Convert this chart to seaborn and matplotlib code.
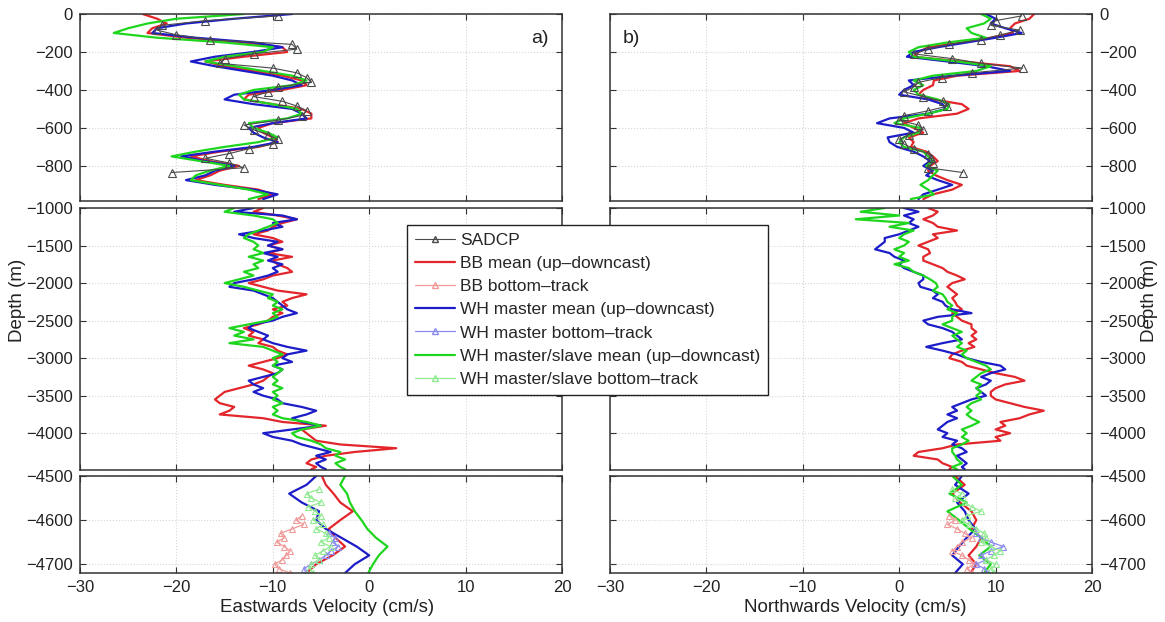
import matplotlib
matplotlib.use("Agg")
import matplotlib.pyplot as plt
from matplotlib.lines import Line2D
import seaborn as sns

# ---------------- data (cm/s, depth in m) ----------------
depth_top = [0, -25, -50, -75, -100, -125, -150, -175, -200, -225,
             -250, -275, -300, -325, -350, -375, -400, -425, -450, -475,
             -500, -525, -550, -575, -600, -625, -650, -675, -700, -725,
             -750, -775, -800, -825, -850, -875, -900, -925, -950, -975]
depth_mid = [-1000, -1050, -1100, -1150, -1200, -1250, -1300, -1350, -1400, -1450,
             -1500, -1550, -1600, -1650, -1700, -1750, -1800, -1850, -1900, -1950,
             -2000, -2050, -2100, -2150, -2200, -2250, -2300, -2350, -2400, -2450,
             -2500, -2550, -2600, -2650, -2700, -2750, -2800, -2850, -2900, -2950,
             -3000, -3050, -3100, -3150, -3200, -3250, -3300, -3350, -3400, -3450,
             -3500, -3550, -3600, -3650, -3700, -3750, -3800, -3850, -3900, -3950,
             -4000, -4050, -4100, -4150, -4200, -4250, -4300, -4350, -4400, -4450,
             -4480]
depth_bot = [-4500, -4520, -4540, -4560, -4580, -4600, -4620, -4640, -4660, -4680, -4700, -4720]
depth_sadcp = [-10, -35, -60, -85, -110, -135, -160, -185, -210, -235,
               -260, -285, -310, -335, -360, -385, -410, -435, -460, -485,
               -510, -535, -560, -585, -610, -635, -660, -685, -710, -735,
               -760, -785, -810, -835]
depth_bt_red = [-4590, -4600, -4610, -4620, -4630, -4640, -4650, -4660, -4670, -4680,
                -4690, -4700, -4710, -4720]
depth_bt_green = [-4530, -4540, -4550, -4560, -4570, -4580, -4590, -4600, -4610, -4620,
                  -4630, -4640, -4650, -4660, -4670, -4680, -4690, -4700, -4710, -4720]
depth_bt_blue = [-4630, -4640, -4650, -4660, -4670, -4680, -4690, -4700, -4710, -4720]

# eastward velocity
u_red_top = [-23.5, -22, -21, -22.5, -23, -19, -13, -9, -8.5, -13,
             -17, -15, -12, -9, -7, -6.5, -9, -12.5, -13, -10,
             -7, -6, -6, -10, -11.5, -11, -10, -9.5, -11.5, -15.5,
             -18.5, -16.5, -13.5, -15.5, -16.5, -18, -15, -11.5, -10, -11.5]
u_blue_top = [-8, -14, -19, -22, -22.5, -18, -12, -9, -12, -16,
              -18.5, -16, -13, -10, -8, -7, -10, -14, -15, -12,
              -8, -7, -6.5, -10, -12.5, -12, -11, -9.5, -12, -16,
              -19.5, -17, -14, -16, -17, -19, -16, -12, -9.5, -11]
u_green_top = [-13, -20, -23, -25, -26.5, -22, -15, -10, -11, -15,
               -17, -14, -11, -8, -6.5, -8, -12, -13.5, -13, -10,
               -7.5, -7, -8.5, -12.5, -12, -10.5, -9.5, -11.5, -15, -18,
               -20.5, -17.5, -14.5, -16.5, -18, -18.5, -15.5, -12.5, -10.5, -12.5]
u_sadcp = [-9.5, -17, -21.5, -22, -20, -16.5, -8, -7.5, -12, -15,
           -15.5, -10, -7.5, -6.5, -6, -9.5, -10.5, -12, -9, -7.5,
           -6.5, -7, -9.5, -13, -12, -10.5, -9.5, -10, -12.5, -14.5,
           -17, -14.5, -13, -20.5]
u_red_mid = [-11, -12, -9.5, -7.5, -9, -10, -10.5, -12, -10, -9,
             -10.5, -9, -10.5, -8, -10, -9.5, -8.5, -8, -10, -11,
             -12.5, -11, -9.5, -6.5, -8, -9, -8.5, -10, -9, -10,
             -10.5, -11.5, -13, -12, -12.5, -11, -11.5, -10, -9.5, -8.5,
             -9.5, -11, -12.5, -11, -10, -10.5, -11, -12, -13.5, -15,
             -15.5, -16, -15.5, -14, -14.5, -15.5, -11, -9, -4.5, -7,
             -6.5, -6, -5.5, -3, 2.8, -1.5, -4.5, -6, -6.5, -5.5,
             -6]
u_blue_mid = [-12, -14, -9, -7.5, -10, -9, -11, -13.5, -12, -9.5,
              -10.5, -9, -11, -9.5, -10.5, -9, -10, -9.5, -10.5, -12,
              -14, -14.5, -12, -11, -10, -9.5, -9, -8.5, -7.5, -9,
              -10, -12, -12.5, -11.5, -10.5, -11, -10, -8.5, -6.5, -8.5,
              -9, -8, -10, -9, -9.5, -11, -12.5, -12, -11, -12,
              -11, -9.5, -9, -7, -5.5, -6.5, -8, -7, -5, -8,
              -11, -10, -8, -7, -5.5, -4, -5.5, -4.5, -5.5, -5,
              -4.5]
u_green_mid = [-14, -15, -12, -10, -9.5, -10.5, -11.5, -12.5, -13, -12,
               -11.5, -12, -11, -12.5, -11, -12, -11.5, -13, -12, -13.5,
               -15, -13, -11.5, -10, -10.5, -9.5, -10, -9, -10, -9.5,
               -10.5, -12.5, -14.5, -13, -14, -12, -14.5, -11, -10, -9,
               -10, -9.5, -10, -9, -9.5, -10, -9.5, -10, -9, -10,
               -9.5, -10, -9, -10, -9.5, -10, -9, -6.5, -5, -7,
               -8, -7.5, -6, -5, -4.5, -3, -3.5, -2.5, -3.5, -3,
               -2.5]
u_red_bot = [-4.9, -4.5, -3.7, -3, -1.7, -3, -4.2, -3.5, -2.5, -3.8, -5.5, -6.5]
u_blue_bot = [-5.5, -6.5, -8.3, -7, -5.2, -5.5, -4.5, -2.9, -1.3, 0, -1.5, -2.5]
u_green_bot = [-2.5, -3, -2.3, -2, -1.5, -0.8, -0.2, 0.7, 1.9, 1, 0.4, -0.1]
u_bt_red = [-7, -7.6, -6.8, -8, -9.2, -8.8, -9.6, -8.8, -8.2, -8.6, -9, -9.8, -9.4, -8.2]
u_bt_green = [-5.2, -6.5, -6, -5, -6.3, -5.6, -5, -5.8, -4.8, -5.5,
              -4.5, -4.2, -5, -4, -4.8, -5.6, -5.2, -6, -6.2, -5.8]
u_bt_blue = [-4.2, -3.5, -3.8, -3.2, -4, -4.5, -5.2, -6, -6.8, -6.5]

# northward velocity
v_red_top = [14, 13.5, 12, 11.5, 11.8, 9.5, 6.5, 3, 2, 1.5,
             6.5, 11.5, 12.5, 6, 3.6, 3.5, 2.5, 2, 3.5, 6.5,
             7.2, 6, 2, 0.5, 1.5, 2.5, 1, 1.5, 1.2, 2.8,
             3.5, 4, 3.2, 3, 3.8, 5, 6.5, 5.5, 3.5, 2.5]
v_blue_top = [9, 10, 9.5, 11, 12.7, 10, 7, 4, 1.5, 0.8,
              5, 9, 11.5, 5.5, 1, 1.5, 0.5, 0, 3, 4.5,
              4.8, 3, -1, -2.3, 0.5, 1.5, -1.2, -1, -0.2, 1.5,
              2.5, 3.2, 2.5, 3.5, 2.8, 4, 5.5, 4, 2.5, 2]
v_green_top = [8.5, 9.5, 8.8, 7, 7.5, 9, 5, 2, 1, 1.5,
               6, 9.5, 8, 3.5, 1.5, 2.5, 1.5, 2, 4, 5.2,
               5, 3, 0.5, -0.5, 2.2, 2, 0.5, 0, 0.5, 2.5,
               3, 3.5, 2.8, 4, 3.5, 3, 2.2, 3, 3.6, 1.2]
v_sadcp = [12.7, 10, 9.5, 12.5, 10.5, 8.5, 5.2, 3, 1.5, 5.5,
           8.5, 12.8, 7.5, 4.4, 2, 1.5, 0.5, 2.5, 4.5, 5,
           3, 0.5, 0, 2, 2.5, 1, 0, 0.5, 1.5, 3,
           3.3, 3.5, 3, 6.6]
v_red_mid = [3, 4, 3.5, 2.5, 3.5, 4, 6, 3.5, 4, 3,
             2, 3, 3.2, 2.5, 2.5, 3.5, 4.5, 5, 6, 6.8,
             5.5, 5, 5.5, 6, 5.5, 5.8, 6, 6.5, 5.5, 6,
             6.5, 7.5, 7.5, 8, 7.5, 8, 7.2, 7.8, 6.5, 5.5,
             5.2, 6.5, 7, 8.5, 10, 12, 13, 11, 10, 9.5,
             9.5, 10, 11.5, 13, 15, 13.5, 12.5, 10.5, 11, 10,
             11.5, 10, 10.5, 6, 4.5, 2, 1.5, 4, 4.5, 5.5,
             5.2]
v_blue_mid = [0.5, 2, 0.5, 1.5, 1, 2, 1, 0, -1.5, -1.5,
              -2, -2.5, -1, -0.5, 0.5, 0, 0.5, 1.5, 2.5, 2.5,
              2, 2.2, 3.5, 4, 3.5, 4.5, 4.8, 5.5, 7.5, 4,
              2.5, 3, 4.5, 5.5, 6, 6.5, 4.5, 2.8, 4.5, 6,
              7, 8.5, 10.5, 11, 9.5, 8.5, 9.5, 9, 8, 8.5,
              9, 7.5, 6.5, 5.5, 6, 5, 6, 5, 4.5, 4,
              5, 4.5, 6, 5.5, 6.5, 7, 6, 6.5, 7, 6.5,
              6.8]
v_green_mid = [-1.5, -4, 0, -4.5, 1, -1, 1.5, 0.5, 0, 1,
               0.5, -0.5, 0.5, 0, 1, -0.5, 1, 1.5, 2.5, 3.2,
               3.8, 4, 3.5, 4.5, 4.8, 5, 5.5, 5, 6, 5.5,
               5.5, 4.5, 5.5, 6.5, 5.5, 6, 6.5, 6, 7, 6.5,
               7, 8, 9, 9.5, 8.5, 8, 7.5, 8.5, 8, 8.5,
               8, 8.5, 7.5, 7, 7.5, 7, 7.5, 8.3, 7.5, 6.5,
               7, 6.5, 7.2, 6.5, 5.5, 5.5, 5.8, 6, 6.5, 5.5,
               6]
v_red_bot = [5.8, 6.8, 5.5, 6.3, 7.5, 8, 7.5, 8.5, 8, 7.2, 8, 7.4]
v_blue_bot = [6.5, 5.8, 7.2, 6, 6.8, 7.2, 7.9, 7, 6.2, 5.5, 6.6, 5.8]
v_green_bot = [5.5, 6.5, 5.2, 7, 5, 6.2, 7.3, 8.5, 9.5, 8.3, 9.5, 8.8]
v_bt_red = [5.2, 5.8, 5, 6, 6.8, 7.5, 6.5, 6, 5.5, 6.5, 7.2, 7.8, 7, 7.5]
v_bt_green = [5.5, 6.5, 5.8, 6.8, 7.5, 8.5, 7, 6.5, 7.2, 8,
              8.8, 9, 8.5, 9.5, 10.5, 9.8, 9, 10, 9.5, 9.8]
v_bt_blue = [8, 8.5, 9.5, 10.8, 9.5, 8.5, 9, 8, 8.8, 9.2]

labels = ["SADCP", "BB mean (up\u2013downcast)", "BB bottom\u2013track",
          "WH master mean (up\u2013downcast)", "WH master bottom\u2013track",
          "WH master/slave mean (up\u2013downcast)", "WH master/slave bottom\u2013track"]

# ---------------- style ----------------
sns.set_theme(style="white")
plt.rcParams["font.family"] = ["Liberation Sans", "DejaVu Sans"]
plt.rcParams["axes.unicode_minus"] = True

c_red, c_blue, c_green, c_sadcp = "#e2262b", "#1c1cc8", "#1fd61f", "#4a4a4a"
c_red_bt, c_blue_bt, c_green_bt = "#f09a9a", "#8a8af0", "#90ea90"

W, H = 1165, 622
fig = plt.figure(figsize=(W / 100, H / 100), dpi=100)

cols = [(80, 562), (610, 1092)]
rows = [(14, 201, (-985, 0), [0, -200, -400, -600, -800]),
        (208, 470, (-4490, -1000), [-1000, -1500, -2000, -2500, -3000, -3500, -4000]),
        (476, 573, (-4720, -4500), [-4500, -4600, -4700])]

mean_data = {
    "east": [(depth_top, u_red_top, u_blue_top, u_green_top),
             (depth_mid, u_red_mid, u_blue_mid, u_green_mid),
             (depth_bot, u_red_bot, u_blue_bot, u_green_bot)],
    "north": [(depth_top, v_red_top, v_blue_top, v_green_top),
              (depth_mid, v_red_mid, v_blue_mid, v_green_mid),
              (depth_bot, v_red_bot, v_blue_bot, v_green_bot)],
}
bt_data = {
    "east": [(depth_bt_red, u_bt_red, c_red_bt), (depth_bt_blue, u_bt_blue, c_blue_bt),
             (depth_bt_green, u_bt_green, c_green_bt)],
    "north": [(depth_bt_red, v_bt_red, c_red_bt), (depth_bt_blue, v_bt_blue, c_blue_bt),
              (depth_bt_green, v_bt_green, c_green_bt)],
}
sadcp_data = {"east": u_sadcp, "north": v_sadcp}


def profile(ax, x, y, color, lw=1.6, **kw):
    sns.lineplot(x=x, y=y, orient="y", sort=False, estimator=None, color=color,
                 lw=lw, ax=ax, legend=False, **kw)


for ci, (comp, (x0, x1)) in enumerate(zip(["east", "north"], cols)):
    for ri, (y0, y1, ylim, yticks) in enumerate(rows):
        ax = fig.add_axes([x0 / W, 1 - y1 / H, (x1 - x0) / W, (y1 - y0) / H])
        d, r, b, g = mean_data[comp][ri]
        profile(ax, r, d, c_red)
        profile(ax, b, d, c_blue)
        profile(ax, g, d, c_green)
        if ri == 2:
            for dd, vv, cc in bt_data[comp]:
                profile(ax, vv, dd, cc, lw=0.9, marker="^", markersize=5,
                        markerfacecolor="none", markeredgecolor=cc, markeredgewidth=0.8)
        if ri == 0:
            profile(ax, sadcp_data[comp], depth_sadcp, c_sadcp, lw=0.8, marker="^",
                    markersize=5.5, markerfacecolor="none", markeredgecolor=c_sadcp,
                    markeredgewidth=0.8)

        ax.set_xlim(-30, 20)
        ax.set_ylim(*ylim)
        ax.set_xticks([-30, -20, -10, 0, 10, 20])
        ax.set_yticks(yticks)
        ax.set_xlabel("")
        ax.set_ylabel("")
        ax.grid(True, ls=":", color="#d6d6d6", lw=0.8)
        for s in ax.spines.values():
            s.set_color("#333333")
            s.set_linewidth(1.1)
        ax.tick_params(direction="in", length=4, width=0.8, colors="#333333",
                       labelcolor="#222222", labelsize=12, top=True, right=True,
                       left=True, bottom=True, pad=5,
                       labelbottom=(ri == 2),
                       labelleft=(ci == 0), labelright=(ci == 1))
        if ri == 0:
            ax.text(0.955 if ci == 0 else 0.045, 0.87, "a)" if ci == 0 else "b)",
                    transform=ax.transAxes, ha="center", va="center",
                    fontsize=14, color="#222222")

fig.text(18 / W, 1 - 300 / H, "Depth (m)", rotation=90, ha="center", va="center",
         fontsize=13.5, color="#222222")
fig.text(1150 / W, 1 - 300 / H, "Depth (m)", rotation=90, ha="center", va="center",
         fontsize=13.5, color="#222222")
fig.text(327 / W, 1 - 607 / H, "Eastwards Velocity (cm/s)", ha="center", va="center",
         fontsize=13.5, color="#222222")
fig.text(855 / W, 1 - 607 / H, "Northwards Velocity (cm/s)", ha="center", va="center",
         fontsize=13.5, color="#222222")

handles = [
    Line2D([], [], color=c_sadcp, lw=0.8, marker="^", ms=5, mfc="none", mec=c_sadcp),
    Line2D([], [], color=c_red, lw=1.6),
    Line2D([], [], color=c_red_bt, lw=0.9, marker="^", ms=5, mfc="none", mec=c_red_bt),
    Line2D([], [], color=c_blue, lw=1.6),
    Line2D([], [], color=c_blue_bt, lw=0.9, marker="^", ms=5, mfc="none", mec=c_blue_bt),
    Line2D([], [], color=c_green, lw=1.6),
    Line2D([], [], color=c_green_bt, lw=0.9, marker="^", ms=5, mfc="none", mec=c_green_bt),
]
leg = fig.legend(handles, labels, loc="upper left", bbox_to_anchor=(407 / W, 1 - 225 / H),
                 fontsize=12.5, frameon=True, fancybox=False, framealpha=1,
                 edgecolor="#222222", borderpad=0.45, labelspacing=0.46,
                 handlelength=2.3, handletextpad=0.3, borderaxespad=0)
leg.get_frame().set_linewidth(1.0)

fig.savefig("out.png", dpi=100)
